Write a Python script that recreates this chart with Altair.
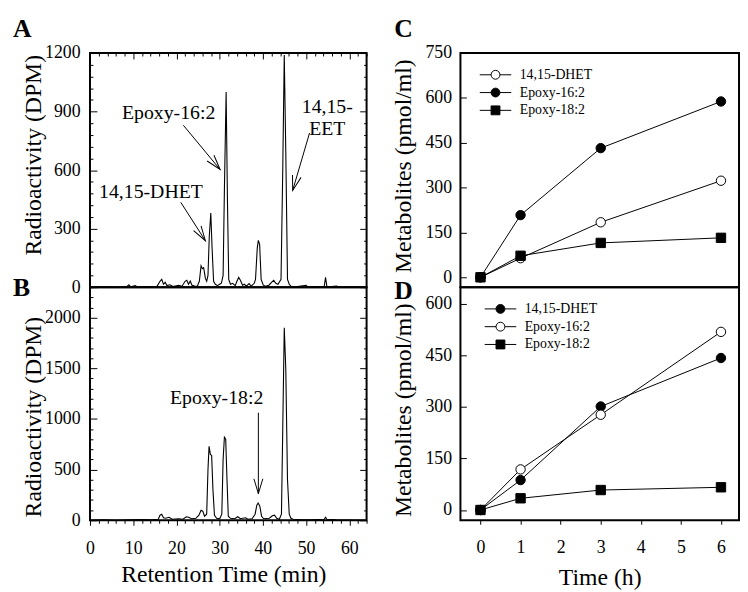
import altair as alt
import pandas as pd

FONT = "Liberation Serif"

# ---------------- Panel A chromatogram (min, DPM) ----------------
a_time = [0, 3, 6, 8.5, 9.0, 9.4, 10.5, 11.0, 13.0, 15.5, 16.2, 16.6, 17.0, 17.4, 17.8,
          18.5, 19.2, 20.5, 21.3, 22.0, 22.4, 22.8, 23.2, 23.6, 24.2, 24.8, 25.3, 25.7,
          26.0, 26.3, 26.7, 27.0, 27.3, 27.6, 27.95, 28.25, 28.6, 29.0, 29.5, 30.0, 30.4,
          30.8, 31.1, 31.5, 31.8, 32.1, 32.5, 33.0, 33.6, 34.0, 34.4, 34.8, 35.3, 35.7,
          36.2, 36.8, 37.3, 38.0, 38.3, 38.7, 38.95, 39.25, 39.6, 40.1, 40.6, 41.4, 42.0,
          42.5, 43.0, 43.5, 44.2, 44.6, 44.95, 45.3, 45.7, 46.1, 46.5, 48.0, 50.0, 50.4,
          52.0, 54.2, 54.5, 54.8, 56.0, 57.0, 58.0, 60.0, 64.0]
a_dpm = [0, 2, 0, 3, 12, 2, 8, 0, 3, 4, 30, 40, 15, 25, 8,
         12, 3, 10, 5, 30, 35, 15, 32, 10, 6, 4, 30, 110,
         95, 100, 45, 30, 60, 260, 380, 200, 30, 15, 8, 15, 20,
         60, 500, 1000, 450, 40, 15, 20, 8, 30, 50, 35, 10, 15,
         5, 18, 5, 20, 40, 200, 240, 220, 40, 10, 5, 10, 25,
         35, 20, 15, 40, 600, 1190, 700, 40, 15, 5, 3, 10, 2,
         3, 5, 50, 5, 3, 6, 0, 2, 0]

# ---------------- Panel B chromatogram (min, DPM) ----------------
b_time = [0, 3, 6, 9, 12, 14, 15.8, 16.2, 16.6, 17.0, 17.5, 18.3, 19.0, 20.5, 21.5,
          22.3, 22.8, 23.5, 24.5, 25.2, 25.7, 26.1, 26.5, 27.0, 27.3, 27.55, 27.85,
          28.15, 28.45, 28.8, 29.3, 30.0, 30.5, 30.8, 31.1, 31.4, 31.7, 32.0, 32.5,
          33.5, 34.2, 34.8, 36.0, 36.5, 37.5, 38.2, 38.6, 38.9, 39.3, 39.7, 40.2,
          41.5, 42.2, 42.7, 43.2, 43.8, 44.3, 44.6, 44.95, 45.3, 45.7, 46.1, 46.5,
          47.0, 49.0, 51.0, 54.2, 54.5, 54.8, 57.0, 60.0, 64.0]
b_dpm = [0, 5, 0, 5, 8, 5, 10, 50, 60, 25, 20, 30, 10, 15, 10,
         35, 30, 15, 20, 50, 100, 90, 40, 60, 500, 730, 650,
         640, 300, 50, 20, 15, 60, 600, 820, 800, 400, 40, 20,
         15, 35, 15, 25, 10, 15, 60, 150, 170, 140, 40, 15,
         20, 45, 50, 20, 10, 60, 900, 1900, 1500, 400, 60, 20,
         10, 5, 5, 10, 30, 10, 5, 3, 0]

# ---------------- annotations (data units) ----------------
a_labels = ["14,15-DHET", "Epoxy-16:2", "14,15-\nEET"]
a_label_t = [14.1, 18.2, 54.9]
a_label_v = [486, 891, 924]
a_arrow_t1 = [21.0, 21.6, 50.8]
a_arrow_v1 = [435, 830, 790]
a_arrow_t2 = [26.7, 30.1, 46.9]
a_arrow_v2 = [238, 603, 496]
a_arrow_angle = [327, 320, 16]

b_labels = ["Epoxy-18:2"]
b_label_t = [29.3]
b_label_v = [1209]
b_arrow_t1 = [38.96]
b_arrow_v1 = [1062]
b_arrow_t2 = [38.96]
b_arrow_v2 = [263]
b_arrow_angle = [0]

# ---------------- time courses (h, pmol/ml) ----------------
hours = [0, 1, 3, 6]
series_names = ["14,15-DHET", "Epoxy-16:2", "Epoxy-18:2"]
marker_shapes = ["circle", "circle", "square"]
c_dhet = [0, 64, 184, 323]
c_e16 = [0, 208, 432, 588]
c_e18 = [0, 72, 115, 132]
c_fills = ["white", "black", "black"]
d_dhet = [0, 87, 301, 442]
d_e16 = [0, 118, 277, 518]
d_e18 = [0, 34, 58, 66]
d_fills = ["black", "white", "black"]

panel_letters = ["A", "B", "C", "D"]

ARROW_PATH = "M -0.3 -1 L 0 0 L 0.3 -1"
LEG_CIRCLE = ("M -1 0 L -0.28 0 M 0.28 0 L 1 0 "
              "M 0.28 0 A 0.28 0.28 0 1 1 -0.28 0 A 0.28 0.28 0 1 1 0.28 0 Z")
LEG_SQUARE = ("M -1 0 L -0.28 0 M 0.28 0 L 1 0 "
              "M -0.28 -0.28 L 0.28 -0.28 L 0.28 0.28 L -0.28 0.28 Z")
legend_paths = [LEG_CIRCLE, LEG_CIRCLE, LEG_SQUARE]


def cond(test, major, minor):
    return {"condition": {"test": test, "value": major}, "value": minor}


def letter_layer(letter, dx, dy):
    return alt.Chart(pd.DataFrame({"letter": [letter]})).mark_text(
        font=FONT, fontSize=26, fontWeight="bold", color="black", align="left",
        baseline="alphabetic").encode(text="letter:N", x=alt.value(dx), y=alt.value(dy))


def chrom_panel(t, v, ymax, y_major, y_minor, H, letter, letter_dy, title_y,
                labels, lt, lv, at1, av1, at2, av2, aang, bottom):
    W = 280
    df = pd.DataFrame({"t": t, "v": v})
    xs = alt.Scale(domain=[0, 64], nice=False, zero=False)
    ys = alt.Scale(domain=[0, ymax], nice=False, zero=False)
    x_minor = list(range(0, 65, 2))
    y_minor_vals = list(range(0, ymax + 1, y_minor))
    y_test = f"datum.value % {y_major} === 0"
    if bottom:
        xaxis = alt.Axis(orient="bottom", values=x_minor, format="d",
                         labelExpr="datum.value % 10 === 0 ? datum.label : ''",
                         tickSize=cond("datum.value % 10 === 0", 5, 3),
                         domain=False, grid=False, labelFlush=False, labelOverlap=False,
                         labelPadding=15, title="Retention Time (min)", titleX=135,
                         titleY=62, titleBaseline="alphabetic")
    else:
        xaxis = alt.Axis(orient="bottom", offset=-H, values=x_minor, labels=False,
                         tickSize=cond("datum.value % 10 === 0", 6, 3),
                         domain=False, grid=False, title=None)
    yaxis = alt.Axis(orient="left", values=list(range(0, ymax + 1, y_major)), format="d",
                     ticks=False, tickSize=0, domain=False, grid=False, labelPadding=10,
                     labelFlush=False, labelOverlap=False, title="Radioactivity (DPM)",
                     titleX=-57, titleY=title_y, titleAngle=270, titleAlign="center",
                     titleBaseline="middle")
    trace = alt.Chart(df).mark_line(color="black", strokeWidth=1.1).encode(
        x=alt.X("t:Q", scale=xs, axis=xaxis), y=alt.Y("v:Q", scale=ys, axis=yaxis))
    tick_l = alt.Chart(df).mark_line(opacity=0).encode(
        x=alt.X("t:Q", scale=xs, axis=None),
        y=alt.Y("v:Q", scale=ys, axis=alt.Axis(orient="right", offset=-W, values=y_minor_vals,
                                               labels=False, domain=False, grid=False, title=None,
                                               tickSize=cond(y_test, 7, 3))))
    tick_r = alt.Chart(df).mark_line(opacity=0).encode(
        x=alt.X("t:Q", scale=xs, axis=None),
        y=alt.Y("v:Q", scale=ys, axis=alt.Axis(orient="left", offset=-W, values=y_minor_vals,
                                               labels=False, domain=False, grid=False, title=None,
                                               tickSize=cond(y_test, 7, 3))))
    ann = pd.DataFrame({"label": labels, "t": lt, "v": lv})
    arr = pd.DataFrame({"t1": at1, "v1": av1, "t2": at2, "v2": av2, "angle": aang})
    text = alt.Chart(ann).mark_text(font=FONT, fontSize=20, color="black", lineBreak="\n",
                                    align="center", baseline="middle").encode(
        x=alt.X("t:Q", scale=xs, axis=None), y=alt.Y("v:Q", scale=ys, axis=None), text="label:N")
    shafts = alt.Chart(arr).mark_rule(color="black", strokeWidth=1).encode(
        x=alt.X("t1:Q", scale=xs, axis=None), y=alt.Y("v1:Q", scale=ys, axis=None),
        x2="t2:Q", y2="v2:Q")
    heads = alt.Chart(arr).mark_point(shape=ARROW_PATH, size=900, filled=False, stroke="black",
                                      strokeWidth=1, opacity=1).encode(
        x=alt.X("t2:Q", scale=xs, axis=None), y=alt.Y("v2:Q", scale=ys, axis=None),
        angle=alt.Angle("angle:Q", scale=None))
    return alt.layer(trace, tick_l, tick_r, shafts, heads, text,
                     letter_layer(letter, -78, letter_dy)).resolve_axis(
        x="independent", y="independent").properties(width=W, height=H)


def course_panel(vals, fills, ymin, ymax, H, letter, letter_dy, title_y, lx, ly, bottom):
    W = 282
    rows = []
    for name, ys_, shp, fl in zip(series_names, vals, marker_shapes, fills):
        for h, y in zip(hours, ys_):
            rows.append({"h": h, "y": y, "series": name, "shape": shp, "fill": fl})
    df = pd.DataFrame(rows)
    xs = alt.Scale(domain=[-0.5, 6.45], nice=False, zero=False)
    ys = alt.Scale(domain=[ymin, ymax], nice=False, zero=False)
    majors = list(range(0, ymax + 1, 150))
    yaxis = alt.Axis(orient="left", values=majors, format="d", ticks=False, tickSize=0,
                     domain=False, grid=False, labelPadding=9, labelFlush=False,
                     labelOverlap=False, title="Metabolites (pmol/ml)", titleX=-58,
                     titleY=title_y, titleAngle=270, titleAlign="center",
                     titleBaseline="middle")
    if bottom:
        xaxis = alt.Axis(orient="bottom", values=list(range(0, 7)), format="d", tickSize=4,
                         domain=False, grid=False, labelPadding=15, labelFlush=False,
                         title="Time (h)", titleY=65, titleBaseline="alphabetic")
    else:
        xaxis = None
    lines = alt.Chart(df).mark_line(color="black", strokeWidth=1).encode(
        x=alt.X("h:Q", scale=xs, axis=xaxis), y=alt.Y("y:Q", scale=ys, axis=yaxis),
        detail="series:N")
    ticks = alt.Chart(df).mark_line(opacity=0).encode(
        x=alt.X("h:Q", scale=xs, axis=None),
        y=alt.Y("y:Q", scale=ys, axis=alt.Axis(orient="right", offset=-W, values=majors,
                                               labels=False, domain=False, grid=False,
                                               title=None, tickSize=6)),
        detail="series:N")
    pts = alt.Chart(df).mark_point(filled=True, size=90, stroke="black", strokeWidth=1,
                                   opacity=1).encode(
        x=alt.X("h:Q", scale=xs, axis=None), y=alt.Y("y:Q", scale=ys, axis=None),
        shape=alt.Shape("shape:N", scale=None), fill=alt.Fill("fill:N", scale=None))
    leg = alt.Legend(title=None, orient="none", legendX=lx, legendY=ly, padding=0,
                     clipHeight=18, rowPadding=0, symbolSize=1024, symbolStrokeWidth=1,
                     symbolStrokeColor="black", labelFont=FONT, labelFontSize=14,
                     labelColor="black", labelOffset=8, labelBaseline="middle")
    legend_layer = alt.Chart(df).transform_filter("datum.h < 0").mark_point(
        filled=False, strokeWidth=1, opacity=1).encode(
        x=alt.X("h:Q", scale=xs, axis=None), y=alt.Y("y:Q", scale=ys, axis=None),
        shape=alt.Shape("series:N", scale=alt.Scale(domain=series_names, range=legend_paths),
                        legend=leg),
        fill=alt.Fill("series:N", scale=alt.Scale(domain=series_names, range=fills), legend=leg),
        stroke=alt.Stroke("series:N", scale=alt.Scale(domain=series_names,
                                                      range=["black", "black", "black"]),
                          legend=leg))
    return alt.layer(lines, ticks, pts, legend_layer,
                     letter_layer(letter, -67, letter_dy)).resolve_scale(
        shape="independent", fill="independent", stroke="independent").resolve_axis(
        x="independent", y="independent").properties(width=W, height=H)


A = chrom_panel(a_time, a_dpm, 1200, 300, 60, 237, panel_letters[0], -16, 103,
                a_labels, a_label_t, a_label_v, a_arrow_t1, a_arrow_v1, a_arrow_t2,
                a_arrow_v2, a_arrow_angle, False)
B = chrom_panel(b_time, b_dpm, 2300, 500, 100, 236, panel_letters[1], 9, 131,
                b_labels, b_label_t, b_label_v, b_arrow_t1, b_arrow_v1, b_arrow_t2,
                b_arrow_v2, b_arrow_angle, True)
C = course_panel([c_dhet, c_e16, c_e18], c_fills, -33, 750, 237, panel_letters[2], -16, 114,
                 19, 13, False)
D = course_panel([d_dhet, d_e16, d_e18], d_fills, -30, 648, 236, panel_letters[3], 12, 124,
                 24, 13, True)

chart = alt.concat(A, C, B, D, columns=2, spacing={"row": 0, "column": 95},
                   bounds="flush").resolve_scale(
    x="independent", y="independent", shape="independent", fill="independent",
    stroke="independent").resolve_legend(
    shape="independent", fill="independent", stroke="independent").configure_view(
    stroke="black", strokeWidth=2).configure_axis(
    labelFont=FONT, labelFontSize=18, labelColor="black", titleFont=FONT, titleFontSize=24,
    titleFontWeight="normal", titleColor="black", tickColor="black", tickWidth=1).properties(
    padding={"left": 4, "top": 4, "right": 0, "bottom": 0}, background="white")

chart.save("out.html", embed_options={"renderer": "svg", "actions": False})
